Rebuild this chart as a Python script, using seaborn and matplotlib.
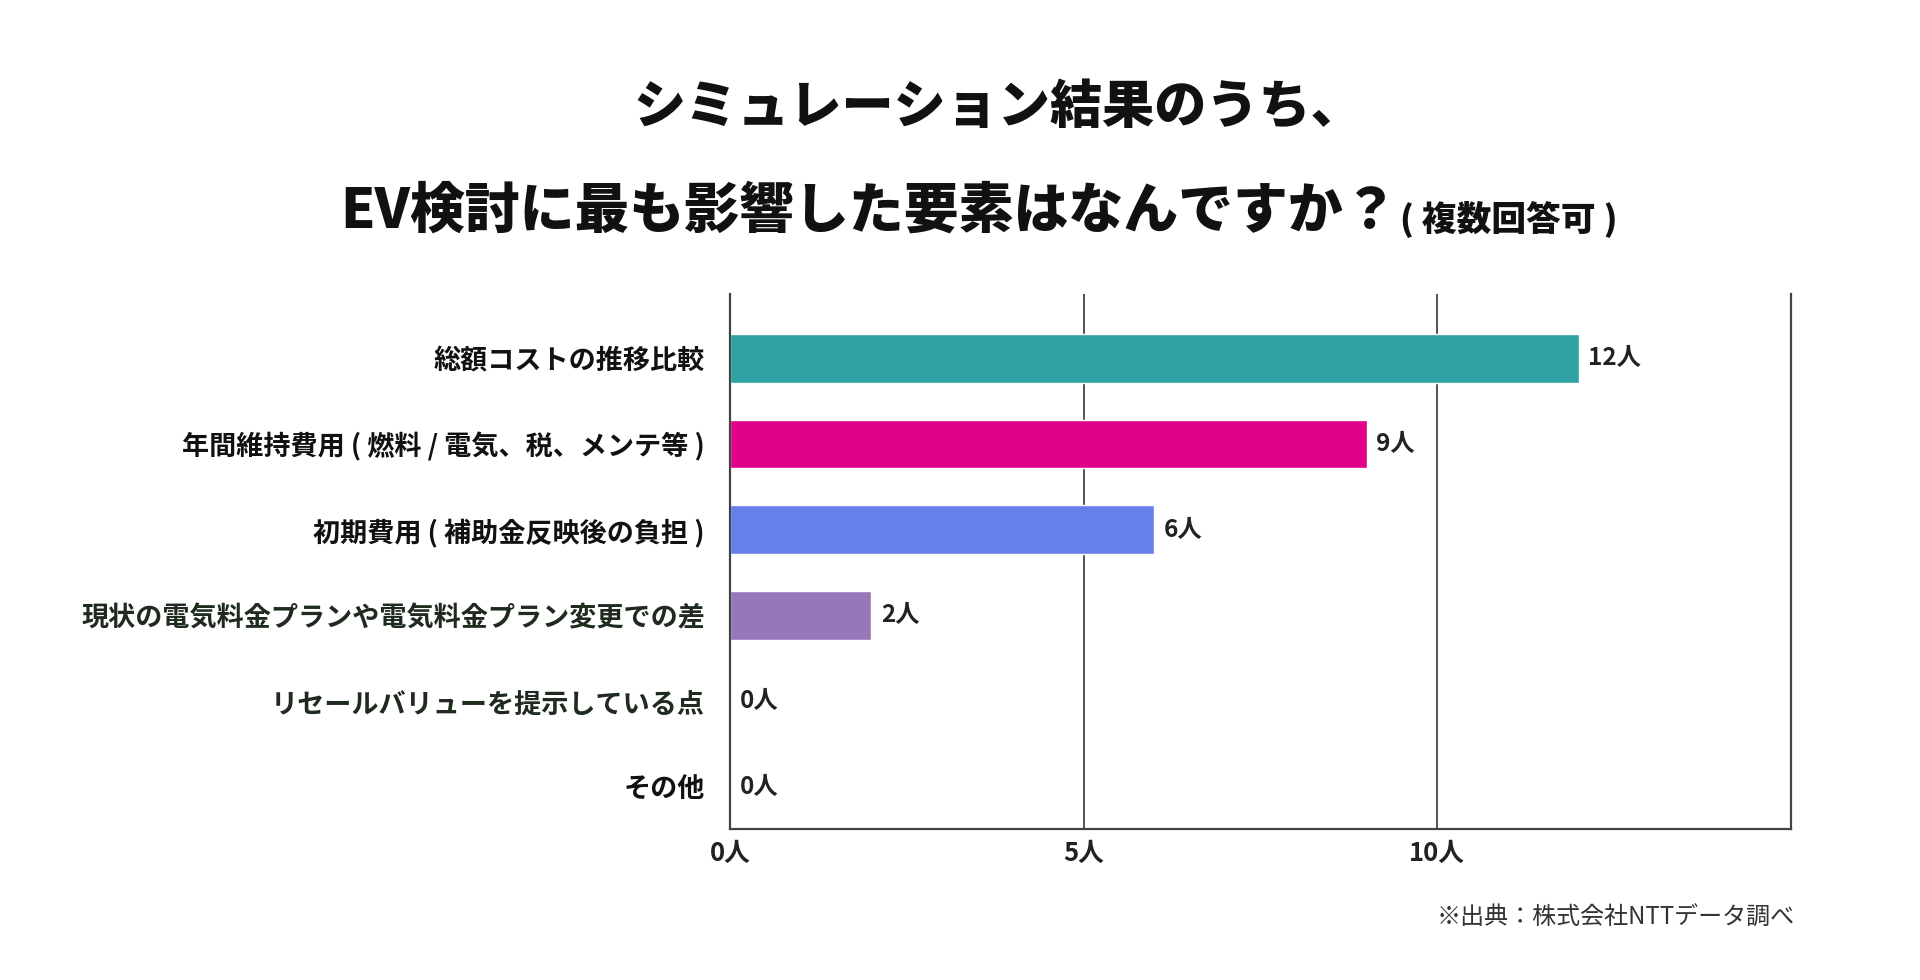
import matplotlib
matplotlib.use("Agg")
import matplotlib.pyplot as plt
import seaborn as sns
import pandas as pd

categories = [
    "総額コストの推移比較",
    "年間維持費用 ( 燃料 / 電気、税、メンテ等 )",
    "初期費用 ( 補助金反映後の負担 )",
    "現状の電気料金プランや電気料金プラン変更での差",
    "リセールバリューを提示している点",
    "その他",
]
values = [12, 9, 6, 2, 0, 0]
bar_colors = ["#2fa3a3", "#e0008a", "#6680ea", "#9678b8", "#cccccc", "#cccccc"]
label_colors = ["#111111", "#111111", "#111111", "#1e2b1e", "#1e2b1e", "#111111"]
xtick_vals = [0, 5, 10]
xtick_labels = ["0人", "5人", "10人"]
title_line1 = "シミュレーション結果のうち、"
title_line2 = "EV検討に最も影響した要素はなんですか？"
title_note = "( 複数回答可 )"
source = "※出典：株式会社NTTデータ調べ"

sns.set_theme(style="white")
plt.rcParams["font.family"] = ["Noto Sans CJK JP", "DejaVu Sans"]

df = pd.DataFrame({"cat": categories, "val": values})

fig = plt.figure(figsize=(19.2, 9.8), dpi=100)
ax = fig.add_axes([0.3802, 0.1541, 0.5526, 0.5459])

sns.barplot(data=df, x="val", y="cat", hue="cat", palette=bar_colors,
            legend=False, width=0.57, ax=ax, orient="h", saturation=1)

ax.set_xlim(0, 15)
ax.set_ylim(5.49, -0.75)
ax.set_xlabel("")
ax.set_ylabel("")

for gx in [5, 10]:
    ax.axvline(gx, color="#444444", lw=1.3, zorder=0)

for s in ["left", "right", "bottom"]:
    ax.spines[s].set_visible(True)
    ax.spines[s].set_color("#444444")
    ax.spines[s].set_linewidth(1.6)
ax.spines["top"].set_visible(False)

ax.set_xticks(xtick_vals)
ax.set_xticklabels(xtick_labels, fontsize=18.5, fontweight="bold", color="#222222")
ax.tick_params(axis="x", length=0, pad=8)
ax.tick_params(axis="y", length=0, pad=18)
ax.set_yticks(range(len(categories)))
ax.set_yticklabels(categories, fontsize=19.5, fontweight="bold")
for lbl, c in zip(ax.get_yticklabels(), label_colors):
    lbl.set_color(c)

for i, v in enumerate(values):
    ax.annotate(f"{v}人", xy=(v, i), xytext=(7, 0), textcoords="offset points",
                ha="left", va="center", fontsize=17.5, fontweight="bold", color="#222222")

fig.text(0.520, 0.890, title_line1, ha="center", va="center",
         fontsize=37.5, fontweight="black", color="#111111")
t2 = fig.text(0.177, 0.757, title_line2, ha="left", va="bottom",
              fontsize=39.5, fontweight="black", color="#111111")
ax.annotate(title_note, xy=(1, 0), xycoords=t2, xytext=(2, 0),
            textcoords="offset points", ha="left", va="bottom",
            fontsize=25, fontweight="black", color="#111111", annotation_clip=False)

fig.text(0.935, 0.063, source, ha="right", va="center", fontsize=17.3, color="#333333")

fig.savefig("out.png", dpi=100, facecolor="white")
